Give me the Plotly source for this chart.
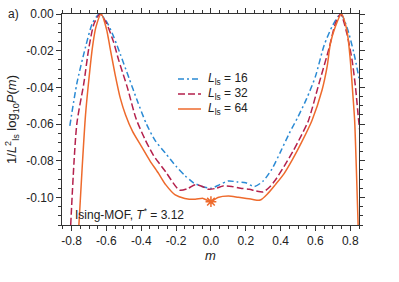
import plotly.graph_objects as go

# ---- data ----
m16 = [-0.81, -0.77, -0.72, -0.68, -0.64, -0.60, -0.56, -0.52, -0.47, -0.42, -0.37, -0.32, -0.26,
       -0.20, -0.15, -0.10, -0.05, 0.0, 0.05, 0.10, 0.15, 0.20, 0.25, 0.30, 0.35, 0.40, 0.45,
       0.50, 0.55, 0.60, 0.65, 0.70, 0.745, 0.78, 0.82, 0.85]
p16 = [-0.061, -0.038, -0.018, -0.005, 0.0, -0.004, -0.012, -0.022, -0.035, -0.048, -0.060, -0.069, -0.076,
       -0.083, -0.088, -0.092, -0.094, -0.095, -0.093, -0.091, -0.0915, -0.092, -0.094, -0.091, -0.0845, -0.075, -0.065,
       -0.056, -0.046, -0.034, -0.017, -0.006, 0.0, -0.007, -0.021, -0.035]

m32 = [-0.805, -0.77, -0.73, -0.70, -0.67, -0.635, -0.60, -0.56, -0.53, -0.48, -0.43, -0.38, -0.33,
       -0.26, -0.18, -0.13, -0.09, -0.05, -0.015, 0.03, 0.07, 0.12, 0.17, 0.22, 0.26, 0.30, 0.34,
       0.37, 0.42, 0.47, 0.52, 0.56, 0.62, 0.68, 0.715, 0.745, 0.78, 0.81, 0.83, 0.848, 0.86]
p32 = [-0.115, -0.060, -0.038, -0.018, -0.005, 0.0, -0.005, -0.015, -0.025, -0.040, -0.057, -0.068, -0.077,
       -0.086, -0.096, -0.095, -0.093, -0.094, -0.0955, -0.095, -0.0937, -0.094, -0.095, -0.0955, -0.0965, -0.097, -0.094,
       -0.0905, -0.083, -0.075, -0.066, -0.058, -0.038, -0.018, -0.005, 0.0, -0.0105, -0.025, -0.040, -0.058, -0.068]

m64 = [-0.758, -0.74, -0.72, -0.70, -0.68, -0.66, -0.63, -0.60, -0.58, -0.55, -0.52, -0.49, -0.45,
       -0.40, -0.35, -0.30, -0.26, -0.205, -0.15, -0.09, -0.045, 0.0, 0.04, 0.10, 0.157, 0.235,
       0.283, 0.33, 0.37, 0.42, 0.47, 0.52, 0.58, 0.638, 0.667, 0.686, 0.714, 0.749, 0.78, 0.80,
       0.814, 0.825, 0.835, 0.845]
p64 = [-0.115, -0.085, -0.055, -0.035, -0.018, -0.007, 0.0, -0.008, -0.018, -0.033, -0.046, -0.055, -0.064,
       -0.072, -0.080, -0.087, -0.093, -0.0986, -0.1005, -0.101, -0.1005, -0.1023, -0.100, -0.0992, -0.0999, -0.101,
       -0.1014, -0.0975, -0.093, -0.087, -0.079, -0.070, -0.058, -0.0414, -0.0287, -0.016, -0.0069, 0.0, -0.0087, -0.025,
       -0.043, -0.058, -0.085, -0.115]

star_m = [0.0]
star_p = [-0.1023]

series_labels = ["<i>L</i><sub>ls</sub> = 16", "<i>L</i><sub>ls</sub> = 32", "<i>L</i><sub>ls</sub> = 64"]
x_ticks = [-0.8, -0.6, -0.4, -0.2, 0.0, 0.2, 0.4, 0.6, 0.8]
y_ticks = [0.0, -0.02, -0.04, -0.06, -0.08, -0.10]

BLUE = "#2a8ad4"
RED = "#b4214c"
ORANGE = "#ee6a2c"
FONT = "Liberation Sans, Arial, sans-serif"
colors = [BLUE, RED, ORANGE]
dashes = ["6px,3px,2px,3px", "7px,3px", "solid"]

fig = go.Figure()
for mm, pp, lab, c, d in zip([m16, m32, m64], [p16, p32, p64], series_labels, colors, dashes):
    fig.add_trace(go.Scatter(x=mm, y=pp, mode="lines", name=lab, showlegend=False,
                             line=dict(color=c, width=1.5, dash=d, shape="spline", smoothing=0.7)))
fig.add_trace(go.Scatter(x=star_m, y=star_p, mode="markers", showlegend=False,
                         marker=dict(symbol="asterisk-open", size=9, color=ORANGE,
                                     line=dict(color=ORANGE, width=1.5))))

axis_common = dict(showline=True, linecolor="#333", linewidth=1, mirror="allticks",
                   ticks="outside", ticklen=5, tickcolor="#333", showgrid=False, zeroline=False,
                   automargin=False,
                   tickfont=dict(family=FONT, size=12, color="#222"))

fig.update_xaxes(range=[-0.855, 0.85], tickvals=x_ticks, ticktext=[f"{v:.1f}" for v in x_ticks],
                 minor=dict(dtick=0.05, ticks="outside", ticklen=3, tickcolor="#333"),
                 title=dict(text="<i>m</i>", font=dict(family=FONT, size=13, color="#222"), standoff=2),
                 **axis_common)
fig.update_yaxes(range=[-0.115, 0.0], tickvals=y_ticks, ticktext=[f"{v:.2f}" for v in y_ticks],
                 minor=dict(dtick=0.005, ticks="outside", ticklen=3, tickcolor="#333"),
                 title=dict(text="1/<i>L</i><sup>2</sup><sub>ls</sub> log<sub>10</sub><i>P</i>(<i>m</i>)",
                            font=dict(family=FONT, size=13, color="#222"), standoff=6),
                 **axis_common)

W, H = 399, 282
L, R, T, B = 62, 40, 14, 57
pw, ph = W - L - R, H - T - B

def px_x(px):
    return (px - L) / pw

def px_y(py):
    return (H - B - py) / ph

# manual legend (short line samples like the reference)
shapes = []
annotations = []
for i, (lab, c, d) in enumerate(zip(series_labels, colors, dashes)):
    yy = px_y(79 + 15 * i)
    shapes.append(dict(type="line", xref="paper", yref="paper", x0=px_x(178), x1=px_x(201), y0=yy, y1=yy,
                       line=dict(color=c, width=1.5, dash=d)))
    annotations.append(dict(text=lab, x=px_x(206), y=yy, xref="paper", yref="paper", xanchor="left",
                            yanchor="middle", showarrow=False, font=dict(family=FONT, size=12, color="#222")))

annotations.append(dict(text="a)", x=px_x(14), y=px_y(14), xref="paper", yref="paper", xanchor="center",
                        yanchor="middle", showarrow=False, font=dict(family=FONT, size=12, color="#222")))
annotations.append(dict(text="Ising-MOF, <i>T</i><sup>*</sup> = 3.12", x=px_x(73), y=px_y(214),
                        xref="paper", yref="paper", xanchor="left", yanchor="middle", showarrow=False,
                        font=dict(family=FONT, size=12, color="#222")))

fig.update_layout(
    width=W, height=H,
    margin=dict(l=L, r=R, t=T, b=B),
    paper_bgcolor="white", plot_bgcolor="white",
    font=dict(family=FONT, size=12, color="#222"),
    showlegend=False,
    shapes=shapes,
    annotations=annotations,
)

fig.write_html("out.html", config={"displayModeBar": False},
               post_script="document.body.style.margin='0';document.body.style.padding='0';")
